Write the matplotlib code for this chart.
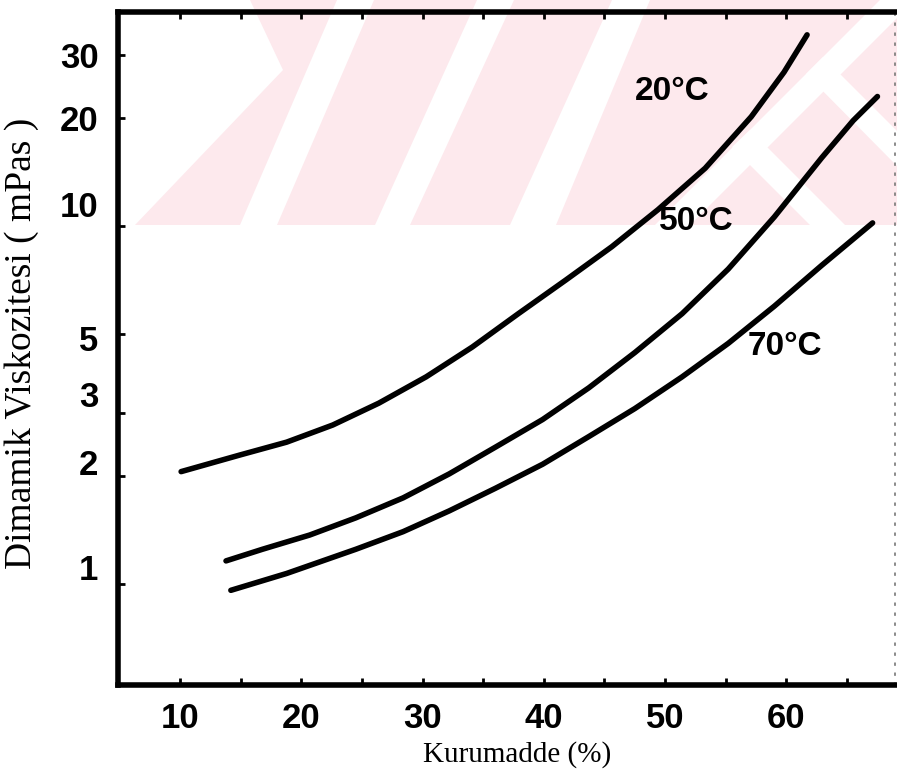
import numpy as np
import matplotlib
matplotlib.use("Agg")
from matplotlib import pyplot as plt
from matplotlib.patches import Polygon
from matplotlib.transforms import ScaledTranslation

# Kurumadde (%) vs Dinamik viskozite (mPas)
kuru_20 = [10.1, 14.9, 18.8, 22.6, 26.4, 30.3, 34.1, 37.9, 41.8, 45.6, 49.4, 53.3, 57.1, 59.8, 61.7]
visk_20 = [2.06, 2.29, 2.49, 2.78, 3.20, 3.79, 4.59, 5.69, 7.06, 8.75, 11.1, 14.5, 20.2, 26.9, 34.2]

kuru_50 = [13.8, 16.8, 20.7, 24.5, 28.4, 32.2, 36.0, 39.9, 43.7, 47.5, 51.4, 55.2, 59.0, 62.9, 65.5, 67.5]
visk_50 = [1.16, 1.25, 1.37, 1.53, 1.74, 2.03, 2.41, 2.88, 3.53, 4.43, 5.69, 7.58, 10.6, 15.5, 19.7, 23.0]

kuru_70 = [14.2, 18.8, 24.5, 28.4, 32.2, 36.0, 39.9, 43.7, 47.5, 51.4, 55.2, 59.0, 62.9, 67.1]
visk_70 = [0.96, 1.07, 1.25, 1.40, 1.60, 1.85, 2.16, 2.58, 3.09, 3.79, 4.70, 5.97, 7.76, 10.2]

curve_labels = ["20°C", "50°C", "70°C"]
label_x = [50.6, 52.6, 59.9]
label_y = [23.8, 10.3, 4.6]

x_ticks = [10, 20, 30, 40, 50, 60]
x_minor = [15, 25, 35, 45, 55, 65]
y_ticks = [1, 2, 3, 5, 10, 20, 30]
y_ticklabels = ["1", "2", "3", "5", "10", "20", "30"]
# hand lettering sits a little above some of the ticks (points)
y_label_shift = [12, 10, 14, -3, 16, 0, 0]

W, H = 897, 782
fig = plt.figure(figsize=(W / 100, H / 100), dpi=100)

# faint pink watermark of the scanned page (pixel outlines, top-left origin)
wm_pink = [(250, 0), (897, 0), (897, 225), (135, 225), (283, 70)]
wm_white = [
    [(337, 0), (374, 0), (277, 225), (240, 225)],
    [(477, 0), (514, 0), (410, 225), (375, 225)],
    [(612, 0), (650, 0), (556, 225), (510, 225)],
    [(880, 0), (897, 0), (897, 18), (690, 225), (655, 225)],
    [(823, 57), (897, 131), (897, 166), (806, 74)],
    [(750, 130), (845, 225), (810, 225), (732, 147)],
]


def to_fig(pts):
    return [(px / W, 1 - py / H) for px, py in pts]


fig.add_artist(Polygon(to_fig(wm_pink), closed=True, transform=fig.transFigure,
                       facecolor="#fde9ed", edgecolor="none", zorder=-3))
for shape in wm_white:
    fig.add_artist(Polygon(to_fig(shape), closed=True, transform=fig.transFigure,
                           facecolor="white", edgecolor="none", zorder=-2))

ax = fig.add_axes([0.1316, 0.124, 0.8662, 0.8606])
ax.patch.set_alpha(0)

for xs, ys in [(kuru_20, visk_20), (kuru_50, visk_50), (kuru_70, visk_70)]:
    ax.plot(xs, ys, color="black", lw=4, solid_capstyle="round", solid_joinstyle="round")

for txt, lx, ly in zip(curve_labels, label_x, label_y):
    ax.text(lx, ly, txt, ha="center", va="center", fontsize=24, fontweight="bold",
            family="Liberation Sans")

ax.set_yscale("log")
ax.set_xlim(4.9, 68.95)
ax.set_ylim(0.522, 39.6)

ax.set_xticks(x_ticks)
ax.set_xticks(x_minor, minor=True)
ax.set_yticks(y_ticks)
ax.set_yticklabels(y_ticklabels)
ax.yaxis.set_minor_locator(matplotlib.ticker.NullLocator())

ax.tick_params(axis="both", which="both", direction="in", width=2, length=5, top=True)
ax.tick_params(axis="x", which="major", pad=12)
ax.tick_params(axis="y", which="major", pad=14)
for lab in ax.get_xticklabels() + ax.get_yticklabels():
    lab.set_fontsize(25)
    lab.set_fontweight("bold")
    lab.set_family("Liberation Sans")

for tick, dy in zip(ax.yaxis.get_major_ticks(), y_label_shift):
    tick.label1.set_transform(tick.label1.get_transform()
                              + ScaledTranslation(0, dy / 72, fig.dpi_scale_trans))

for side in ["left", "bottom", "top"]:
    ax.spines[side].set_linewidth(4)
ax.spines["right"].set_linewidth(1.2)
ax.spines["right"].set_linestyle((0, (1, 5)))
ax.spines["right"].set_color("#777777")

ax.set_xlabel("Kurumadde (%)", family="Liberation Serif", fontsize=21)
ax.xaxis.set_label_coords(0.5135, -0.104)
ax.xaxis.label.set_va("center")
ax.set_ylabel("Dimamik Viskozitesi ( mPas )", family="Liberation Serif", fontsize=27)
ax.yaxis.set_label_coords(-0.1236, 0.508)
ax.yaxis.label.set_va("center")

fig.savefig("out.png", dpi=100)
